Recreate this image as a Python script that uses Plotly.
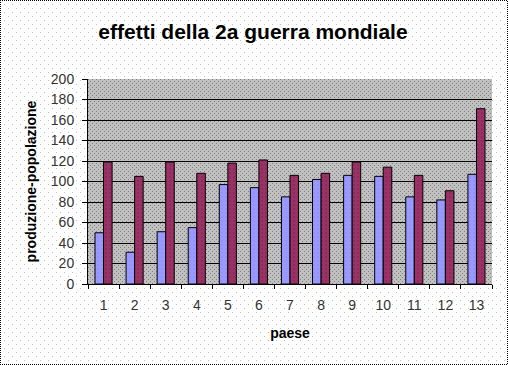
import base64, struct, zlib
import plotly.graph_objects as go

paesi = [str(i) for i in range(1, 14)]
serie_a = [50, 31, 51, 55, 97, 94, 85, 102, 106, 105, 85, 82, 107]
serie_b = [119, 105, 119, 108, 118, 121, 106, 108, 119, 114, 106, 91, 171]
y_ticks = list(range(0, 201, 20))

W, H = 508, 365
L, R, T, B = 88, 16, 79, 81


def png_uri(w, h, pixfn):
    raw = bytearray()
    for y in range(h):
        raw.append(0)
        for x in range(w):
            raw.extend(pixfn(x, y))
    def chunk(tag, data):
        c = struct.pack(">I", len(data)) + tag + data
        return c + struct.pack(">I", zlib.crc32(tag + data) & 0xffffffff)
    png = b"\x89PNG\r\n\x1a\n" + chunk(b"IHDR", struct.pack(">IIBBBBB", w, h, 8, 2, 0, 0, 0))
    png += chunk(b"IDAT", zlib.compress(bytes(raw), 9)) + chunk(b"IEND", b"")
    return "data:image/png;base64," + base64.b64encode(png).decode()


def paper_px(x, y):
    if x == 0 or y == 0 or x == W - 1 or y == H - 1:
        return (0, 0, 0) if (x + y) % 2 == 0 else (255, 255, 255)
    if (x % 8 == 0 and y % 8 == 0) or (x % 8 == 4 and y % 8 == 4):
        return (192, 192, 192)
    return (255, 255, 255)


def plot_px(x, y):
    if x % 2 == 0 and y % 2 == 0 and (x + y) % 4 == 0:
        return (128, 128, 128)
    return (192, 192, 192)


pw, ph = W - L - R, H - T - B

fig = go.Figure()
fig.add_bar(x=paesi, y=serie_a, name="a",
            marker=dict(color="#9999FF", line=dict(color="black", width=1),
                        pattern=dict(shape=".", fgcolor="#7777dd", size=4, solidity=0.1)))
fig.add_bar(x=paesi, y=serie_b, name="b",
            marker=dict(color="#993366", line=dict(color="black", width=1),
                        pattern=dict(shape=".", fgcolor="#660033", size=4, solidity=0.1)))

fig.add_layout_image(source=png_uri(W, H, paper_px), xref="paper", yref="paper",
                     x=-L / pw, y=1 + T / ph, sizex=W / pw, sizey=H / ph,
                     sizing="stretch", xanchor="left", yanchor="top", layer="below")
fig.add_layout_image(source=png_uri(pw, ph, plot_px), xref="paper", yref="paper",
                     x=0, y=1, sizex=1, sizey=1,
                     sizing="stretch", xanchor="left", yanchor="top", layer="below")

fig.update_layout(
    width=W, height=H,
    margin=dict(l=L, r=R, t=T, b=B, autoexpand=False),
    paper_bgcolor="white", plot_bgcolor="rgba(0,0,0,0)",
    showlegend=False,
    barmode="group", bargap=0.45, bargroupgap=0.0,
    font=dict(family="Arial, Liberation Sans, sans-serif", size=14, color="black"),
    title=dict(text="<b>effetti della 2a guerra mondiale</b>", x=253 / W, xanchor="center",
               y=1 - 32 / H, yanchor="middle",
               font=dict(size=21, color="black")),
)
fig.update_xaxes(
    type="category", showline=True, linecolor="black", linewidth=1,
    ticks="outside", ticklen=4, tickcolor="black", tickson="boundaries",
    showgrid=False, tickfont=dict(size=14, color="#333"), ticklabelstandoff=8,
    title=dict(text="<b>paese</b>", font=dict(size=14), standoff=16),
    automargin=False,
)
fig.update_yaxes(
    range=[0, 200], tickvals=y_ticks, showline=True, linecolor="black", linewidth=1,
    ticks="outside", ticklen=5, tickcolor="black",
    showgrid=True, gridcolor="black", gridwidth=1, zeroline=False,
    tickfont=dict(size=14, color="#333"), ticklabelstandoff=5,
    title=dict(text="<b>produzione-popolazione</b>", font=dict(size=14), standoff=10),
    automargin=False,
)

fig.write_html("out.html", config={"displayModeBar": False},
               post_script="document.body.style.margin='0';document.body.style.overflow='hidden';")
